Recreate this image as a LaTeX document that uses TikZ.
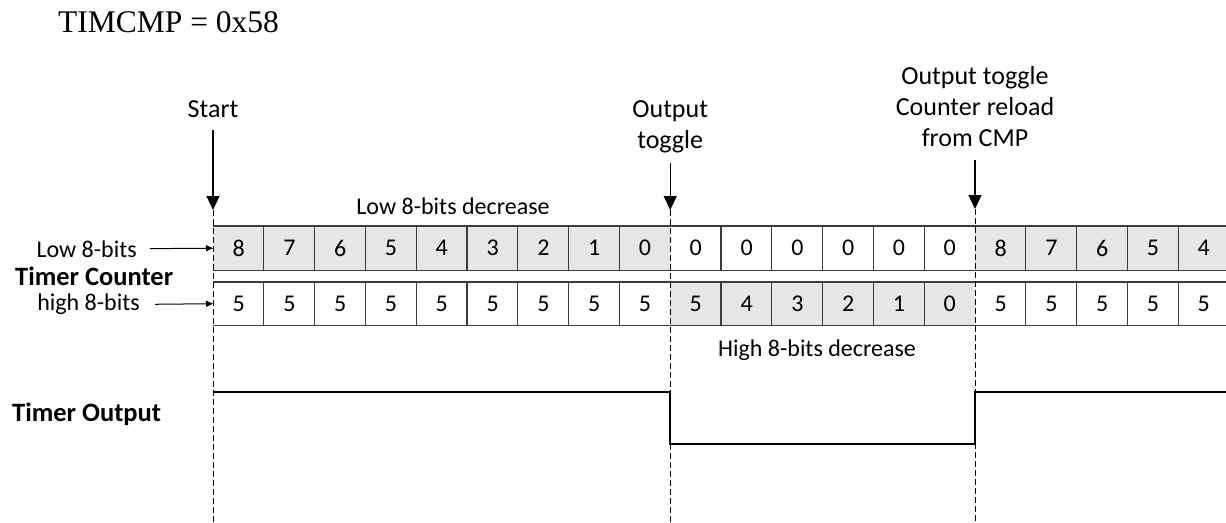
\documentclass[tikz,border=0pt]{standalone}
\usepackage{fontspec}
\setmainfont{Carlito}
\newfontfamily\timesfam{Liberation Serif}
\usetikzlibrary{arrows.meta}
\definecolor{cellgrey}{HTML}{E6E6E6}
\definecolor{lineC}{HTML}{3C3C3C}
\begin{document}
\begin{tikzpicture}[x=1pt,y=-1pt,
  lbl/.style={inner sep=0pt, font=\fontsize{24}{30.5}\selectfont, anchor=base, align=center},
  evlbl/.style={inner sep=0pt, font=\fontsize{26}{30.8}\selectfont, anchor=base, align=center},
  boldlbl/.style={inner sep=0pt, font=\fontsize{26.5}{30.5}\selectfont\bfseries, anchor=base west},
  cellbox/.style={inner sep=0pt, minimum width=50.8pt, anchor=north west, font=\fontsize{24}{24}\selectfont},
  evt/.style={-{Triangle[width=13pt,length=14pt]}, line width=1.2pt},
  ptr/.style={-{Triangle[width=6pt,length=7pt]}, line width=1pt},
  vdash/.style={dash pattern=on 6pt off 3pt, line width=1pt},
  rowline/.style={draw=lineC, line width=1.3pt},
  sig/.style={line width=1.8pt, line join=miter}]
\useasboundingbox (0,0) rectangle (1226,522);

% title
\node[inner sep=0pt, anchor=base west, font=\timesfam\fontsize{31.5}{31.5}\selectfont] (title) at (58,32) {TIMCMP = 0x58};

% cells
\foreach \v/\f [count=\i from 0] in {8/cellgrey,7/cellgrey,6/cellgrey,5/cellgrey,4/cellgrey,3/cellgrey,2/cellgrey,1/cellgrey,0/cellgrey,0/white,0/white,0/white,0/white,0/white,0/white,8/cellgrey,7/cellgrey,6/cellgrey,5/cellgrey,4/cellgrey}
  \node[cellbox, minimum height=44pt, fill=\f] (a\i) at ({213+50.8*\i},226) {\v};
\foreach \v/\f [count=\i from 0] in {5/white,5/white,5/white,5/white,5/white,5/white,5/white,5/white,5/white,5/cellgrey,4/cellgrey,3/cellgrey,2/cellgrey,1/cellgrey,0/cellgrey,5/white,5/white,5/white,5/white,5/white}
  \node[cellbox, minimum height=43pt, fill=\f] (b\i) at ({213+50.8*\i},282) {\v};

% row outlines
\draw[rowline] (a0.north west) -- (a19.north east);
\draw[rowline] (a0.south west) -- (a19.south east);
\draw[rowline] (b0.north west) -- (b19.north east);
\draw[rowline] (b0.south west) -- (b19.south east);
\foreach \i in {1,...,8,10,11,12,13,14,16,17,18,19} {
  \draw[rowline] (a\i.north west) -- (a\i.south west);
  \draw[rowline] (b\i.north west) -- (b\i.south west);
}

% event labels and arrows
\node[evlbl] (start) at (213,117) {Start};
\node[evlbl] (tog) at (670.2,148) {Output\\toggle};
\node[evlbl] (rel) at (975,146.5) {Output toggle\\Counter reload\\from CMP};
\coordinate (tipS) at (213,210);
\coordinate (tipT) at (670.2,210);
\coordinate (tipR) at (975,209);
\coordinate (endS) at (213,522);
\coordinate (endT) at (670.2,522);
\coordinate (endR) at (975,522);
\draw[evt, shorten <=13pt] (start.south) -- (tipS);
\draw[evt, shorten <=10pt] (tog.south) -- (tipT);
\draw[evt, shorten <=13pt] (rel.south) -- (tipR);
\draw[vdash] (tipS) -- (endS);
\draw[vdash] (tipT) -- (endT);
\draw[vdash] (tipR) -- (endR);

% phase labels
\node[lbl] (lowdec) at (453,214) {Low 8-bits decrease};
\node[lbl] (highdec) at (817,356) {High 8-bits decrease};

% row labels
\node[lbl, anchor=base east] (low) at (137,257) {Low 8-bits};
\node[boldlbl] (tc) at (15,285.7) {Timer Counter};
\node[lbl, anchor=base east] (high) at (140,310.7) {high 8-bits};
\draw[ptr, shorten <=13pt] (low.east) -- (a0.west);
\draw[ptr, shorten <=15pt] (high.east) -- (b0.west);

% timer output
\node[boldlbl] (to) at (12,421) {Timer Output};
\coordinate (o0) at (213,392);
\coordinate (o1) at (670.2,392);
\coordinate (o2) at (670.2,444);
\coordinate (o3) at (975,444);
\coordinate (o4) at (975,392);
\coordinate (o5) at (1226,392);
\draw[sig] (o0) -- (o1) -- (o2) -- (o3) -- (o4) -- (o5);
\end{tikzpicture}
\end{document}
